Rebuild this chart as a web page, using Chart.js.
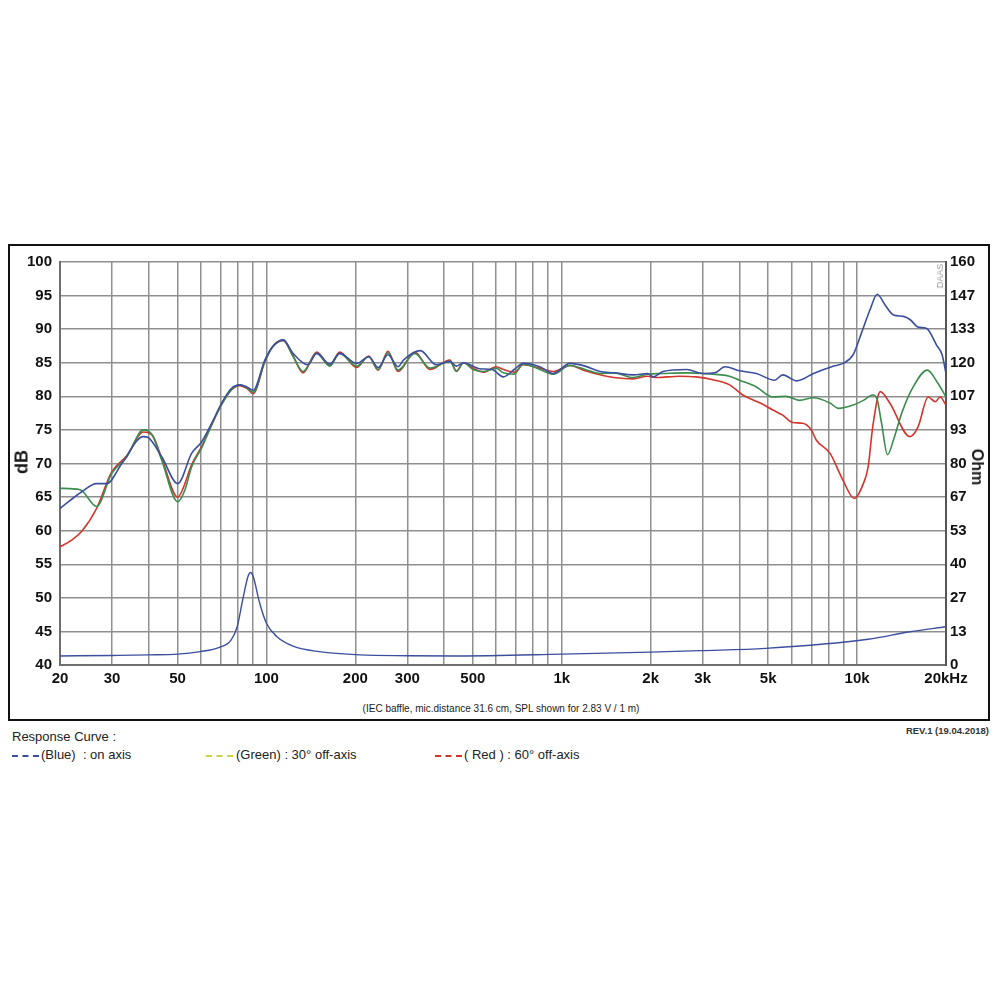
<!DOCTYPE html>
<html>
<head>
<meta charset="utf-8">
<script src="https://cdn.jsdelivr.net/npm/chart.js@4.4.1/dist/chart.umd.min.js"></script>
<style>
  html,body{margin:0;padding:0;background:#fff;width:1000px;height:1000px;overflow:hidden;font-family:"Liberation Sans",Arial,sans-serif;}
  #wrap{position:absolute;left:0;top:0;width:1000px;height:700px;}
  #frame{position:absolute;left:8px;top:244px;width:978px;height:473px;border:2px solid #111;}
  .t{position:absolute;white-space:nowrap;color:#1a1a1a;}
  .lg{font-size:13px;color:#222;}
  .dash{position:absolute;width:27px;height:0;border-top:2px dashed;}
</style>
</head>
<body>
<div id="frame"></div>
<div id="wrap"><canvas id="c"></canvas></div>
<div class="t" style="left:22px;top:462px;transform:translate(-50%,-50%) rotate(-90deg);font-weight:bold;font-size:18px;">dB</div>
<div class="t" style="left:977px;top:467px;transform:translate(-50%,-50%) rotate(90deg);font-weight:bold;font-size:16px;">Ohm</div>
<div class="t" style="left:940px;top:276px;transform:translate(-50%,-50%) rotate(-90deg);font-size:9px;color:#999;">DAAS</div>
<div class="t" style="left:501px;top:708px;transform:translate(-50%,-50%);font-size:10px;">(IEC baffle, mic.distance 31.6 cm, SPL shown for 2.83 V / 1 m)</div>
<div class="t" style="right:11px;top:725px;font-size:9.5px;font-weight:bold;color:#333;">REV.1 (19.04.2018)</div>
<div class="t lg" style="left:12px;top:729px;">Response Curve :</div>
<div class="dash" style="left:12px;top:755px;border-color:#3c4f9e;"></div>
<div class="t lg" style="left:41px;top:747px;">(Blue)&nbsp; : on axis</div>
<div class="dash" style="left:206px;top:755px;border-color:#c9d24a;"></div>
<div class="t lg" style="left:236px;top:747px;">(Green) : 30° off-axis</div>
<div class="dash" style="left:435px;top:755px;border-color:#d2352b;"></div>
<div class="t lg" style="left:464px;top:747px;">( Red ) : 60° off-axis</div>
<script>
// ---- data ----
const tickValues = [20,30,40,50,60,70,80,90,100,200,300,400,500,600,700,800,900,1000,2000,3000,4000,5000,6000,7000,8000,9000,10000,20000];
const labelValues = [20,30,50,100,200,300,500,1000,2000,3000,5000,10000,20000];
const labelTexts  = ['20','30','50','100','200','300','500','1k','2k','3k','5k','10k','20kHz'];

const blueFreq = [20,23.7,26.6,28.8,32.4,38.3,39.6,44.2,50.1,55.8,60.3,65.3,70.5,76.2,81.3,85.8,90.2,98.8,105,114,123,138,148,164,177,202,222,239,258,279,291,332,376,418,440,465,528,580,634,690,740,843,936,1066,1200,1348,1500,1745,1950,2040,2200,2650,3000,3300,3570,4000,4560,5260,5600,6250,7120,8340,8960,9700,10380,11060,11700,12440,13280,14360,15140,16100,17200,18600,19400,20000];
const blueDb   = [63.3,65.8,67.0,67.0,70.0,74.0,73.9,71.0,67.0,71.5,73.2,76.0,79.0,81.2,81.7,81.4,80.9,85.4,87.4,88.4,86.4,84.7,86.4,84.8,86.4,84.9,85.9,84.3,86.2,84.4,85.4,86.8,84.7,85.2,84.5,85.0,84.1,84.0,82.9,84.0,84.9,84.4,83.4,84.9,84.5,83.7,83.5,83.2,83.4,82.9,83.7,84.0,83.4,83.5,84.4,83.8,83.4,82.4,83.2,82.3,83.4,84.5,84.9,86.2,89.6,92.9,95.2,93.6,92.1,91.9,91.4,90.3,90.1,87.6,86.2,83.4];

const greenFreq = [20,23.4,26.6,29.9,33.7,38.3,41.1,44.2,50.1,53.0,55.8,60.3,65.3,70.5,76.2,81.3,85.8,90.2,98.8,105,114,123,133,148,164,177,202,222,239,258,279,318,358,418,440,465,500,544,600,634,690,740,843,936,1066,1200,1348,1500,1745,1950,2200,2650,3000,3700,4000,4560,5170,5750,6370,7120,8100,8650,9700,10500,11300,11700,12100,12680,13280,14160,15480,17280,18800,20000];
const greenDb   = [66.3,66.1,63.6,68.5,71.0,75.0,74.2,70.5,64.3,66.1,69.5,72.3,75.8,78.8,81.0,81.7,81.3,80.6,85.2,87.4,88.4,86.0,83.7,86.4,84.5,86.4,84.5,85.9,84.0,86.5,83.9,86.4,84.2,85.2,83.7,85.0,84.0,83.7,84.2,83.5,83.3,84.8,84.0,83.3,84.6,84.0,83.4,83.5,82.8,83.3,83.4,83.5,83.4,83.0,82.4,81.4,79.9,80.0,79.4,79.8,79.0,78.2,78.7,79.4,80.2,79.5,76.0,71.3,73.5,77.5,81.4,83.9,81.9,79.9];

const redFreq = [20,21.9,23.7,26.6,29.9,33.7,38.3,41.1,44.2,50.1,52.0,55.8,60.3,65.3,70.5,76.2,81.3,85.8,90.2,98.8,105,114,123,133,148,164,177,202,222,239,258,279,318,358,418,440,465,500,544,600,634,690,740,843,936,1066,1200,1348,1500,1745,1950,2100,2500,2850,3300,3700,4100,4700,5170,5600,6050,6540,7000,7270,8100,8960,9780,10500,10900,11300,11980,12900,15100,16100,17400,18400,19100,20000];
const redDb   = [57.6,58.6,59.9,63.3,68.7,71.2,74.7,74.2,70.8,65.0,66.1,69.8,72.5,75.8,78.8,81.0,81.6,81.2,80.4,85.2,87.4,88.3,86.0,83.5,86.6,84.6,86.6,84.3,86.0,83.9,86.7,83.7,86.6,84.0,85.4,83.8,85.0,84.2,83.6,84.4,84.0,83.6,84.7,84.2,83.7,84.6,83.8,83.2,82.8,82.6,83.0,82.8,83.0,82.9,82.4,81.7,80.2,79.0,78.0,77.2,76.1,76.0,75.0,73.5,71.5,67.5,64.8,67.0,69.5,75.5,80.7,79.0,74.0,75.5,79.9,79.2,79.9,78.7];

const impFreq = [20,30,40,50,59.6,69.3,75.9,79.6,83.1,86.6,88.3,90.2,94.9,100,108.6,123,151,207,300,440,1000,2000,2940,4900,10900,15100,20000];
const impOhm  = [3.6,3.8,4.0,4.3,5.3,7.0,9.9,15.2,25.8,35.1,36.7,35.1,24.5,16.6,11.2,7.5,5.3,4.0,3.7,3.6,4.3,5.1,5.7,6.6,10.2,13.2,15.2];

// ---- chart ----
const pts = (fs, vs) => fs.map((f, i) => ({x: f, y: vs[i]}));
const tickFont = {family: '"Liberation Sans", Arial, sans-serif', size: 15, weight: 'bold'};
const gridCol = '#8f8f8f';

new Chart(document.getElementById('c'), {
  type: 'line',
  data: {
    datasets: [
      {label: 'on axis', data: pts(blueFreq, blueDb), borderColor: '#3c4f9e', borderWidth: 1.6, yAxisID: 'y'},
      {label: '30° off-axis', data: pts(greenFreq, greenDb), borderColor: '#3b8d4f', borderWidth: 1.6, yAxisID: 'y'},
      {label: '60° off-axis', data: pts(redFreq, redDb), borderColor: '#d2352b', borderWidth: 1.6, yAxisID: 'y'},
      {label: 'impedance', data: pts(impFreq, impOhm), borderColor: '#3c4f9e', borderWidth: 1.4, yAxisID: 'y2'}
    ]
  },
  options: {
    responsive: true,
    maintainAspectRatio: false,
    animation: false,
    parsing: true,
    layout: {padding: {left: 8, right: 14, top: 262, bottom: 5}},
    elements: {point: {radius: 0}, line: {cubicInterpolationMode: 'monotone', fill: false}},
    plugins: {legend: {display: false}, tooltip: {enabled: false}},
    scales: {
      x: {
        type: 'logarithmic', min: 20, max: 20000,
        afterBuildTicks: s => { s.ticks = tickValues.map(v => ({value: v})); },
        afterFit: s => { s.height = 30; },
        ticks: {
          autoSkip: false, maxRotation: 0, minRotation: 0, padding: 5, color: '#111', font: tickFont,
          callback: v => { const i = labelValues.indexOf(Math.round(v)); return i >= 0 ? labelTexts[i] : ''; }
        },
        grid: {color: gridCol, lineWidth: 1.5, drawTicks: false},
        border: {color: '#6f6f6f', width: 2}
      },
      y: {
        position: 'left', min: 40, max: 100,
        afterFit: s => { s.width = 52; },
        ticks: {stepSize: 5, padding: 8, color: '#111', font: tickFont},
        grid: {color: gridCol, lineWidth: 1.5, drawTicks: false},
        border: {color: '#6f6f6f', width: 2}
      },
      y2: {
        position: 'right', min: 0, max: 160,
        afterBuildTicks: s => { s.ticks = Array.from({length: 13}, (_, k) => ({value: k * 160 / 12})); },
        afterFit: s => { s.width = 40; },
        ticks: {padding: 4, color: '#111', font: tickFont, callback: v => String(Math.round(v))},
        grid: {drawOnChartArea: false, drawTicks: false},
        border: {color: '#555', width: 2}
      }
    }
  }
});
</script>
</body>
</html>
